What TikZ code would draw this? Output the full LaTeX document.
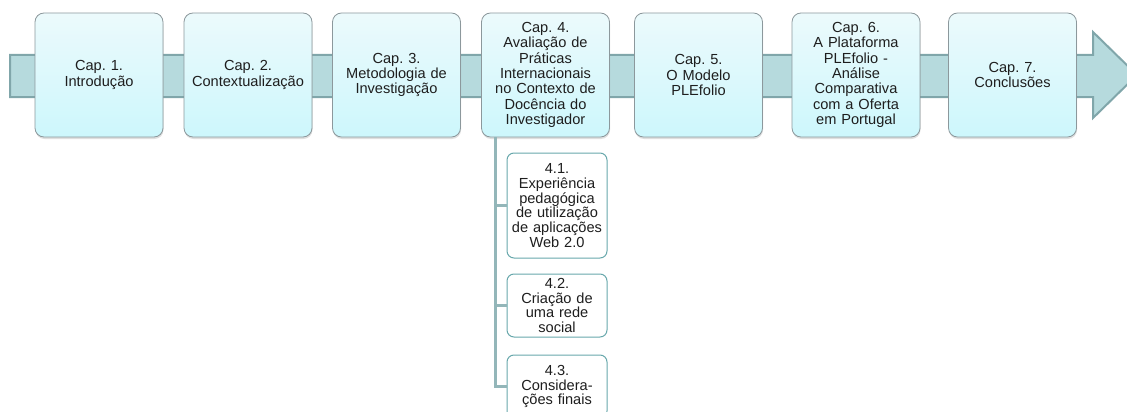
\documentclass[tikz,border=0pt]{standalone}
\usepackage{fontspec}
\setmainfont{Liberation Sans}
\usetikzlibrary{shadows}

\definecolor{barfill}{RGB}{182,218,221}
\definecolor{barline}{RGB}{128,166,170}
\definecolor{boxtop}{RGB}{236,250,252}
\definecolor{boxbottom}{RGB}{205,247,252}
\definecolor{boxline}{RGB}{140,152,156}
\definecolor{subline}{RGB}{104,168,172}
\definecolor{trunkline}{RGB}{147,182,185}
\definecolor{txt}{RGB}{30,30,30}

\begin{document}
\frenchspacing
\begin{tikzpicture}[x=1pt,y=-1pt]

\tikzset{chap/.style = {shape=rectangle, draw=boxline, line width=0.8pt, rounded corners=9pt,
  top color=boxtop, bottom color=boxbottom, minimum width=128pt, minimum height=124pt,
  text width=124pt, align=center, inner sep=1pt, text=txt, font=\fontsize{14.6}{15.4}\selectfont,
  drop shadow={shadow xshift=0.5pt, shadow yshift=-2pt, opacity=0.25}}}
\tikzset{sub/.style = {shape=rectangle, draw=subline, line width=1pt, rounded corners=7pt,
  fill=white, minimum width=100pt, text width=98pt, align=center, inner sep=1pt,
  text=txt, font=\fontsize{14.6}{14.8}\selectfont}}
\tikzset{branch/.style = {draw=trunkline, line width=3pt}}

\useasboundingbox (0,0) rectangle (1127,412);
\clip (0,0) rectangle (1127,412);

%arrow
\draw[fill=barfill, draw=barline, line width=2pt] (10,55) -- (1093,55) -- (1093,32) -- (1137,75)
  -- (1093,118) -- (1093,97) -- (10,97) -- cycle;

%chapters
\node[chap] (c1) at (99,75) {Cap. 1.\\Introdução};
\node[chap] (c2) at (248,75) {Cap. 2.\\Contextualização};
\node[chap] (c3) at (396.5,75) {Cap. 3.\\Metodologia de\\Investigação};
\node[chap] (c4) at (545.5,75) {Cap. 4.\\Avaliação de\\Práticas\\Internacionais\\no Contexto de\\Docência do\\Investigador};
\node[chap] (c5) at (698.5,75) {Cap. 5.\\O Modelo\\PLEfolio};
\node[chap] (c6) at (856,75) {Cap. 6.\\A Plataforma\\PLEfolio -\\Análise\\Comparativa\\com a Oferta\\em Portugal};
\node[chap] (c7) at (1012.5,75) {Cap. 7.\\Conclusões};

%sections
\node[sub, minimum height=105pt] (s1) at (557,205.5) {4.1.\\Experiência\\pedagógica\\de utilização\\de aplicações\\Web 2.0};
\node[sub, minimum height=63pt] (s2) at (557,305.5) {4.2.\\Criação de\\uma rede\\social};
\node[sub, minimum height=63pt] (s3) at (557,386.5) {4.3.\\Considera-\\ções finais};

%edges
\coordinate (trunk) at (c4.south -| 495,0);
\path[branch] (trunk) |- (s1.west);
\path[branch] (trunk) |- (s2.west);
\path[branch] (trunk) |- (s3.west);

\end{tikzpicture}
\end{document}
